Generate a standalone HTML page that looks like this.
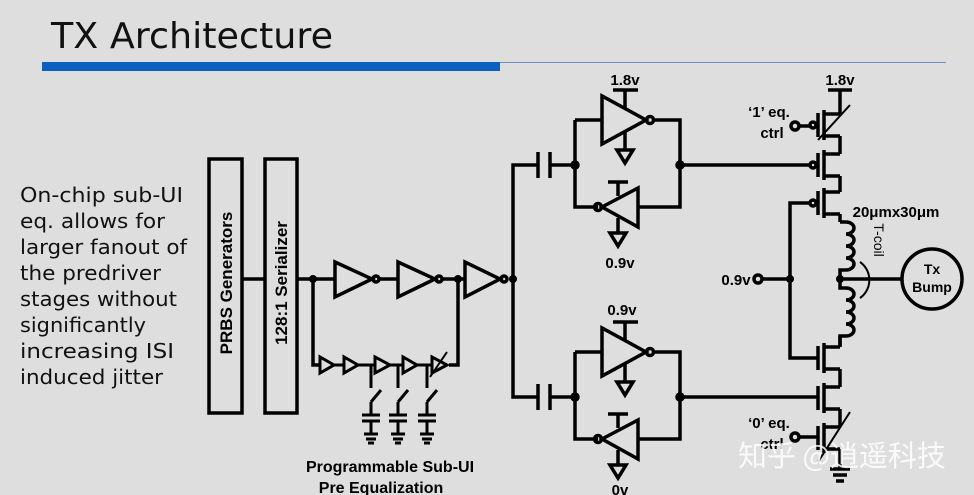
<!DOCTYPE html>
<html><head><meta charset="utf-8"><style>
html,body{margin:0;padding:0;background:#dedede;}
svg{display:block;}
</style></head><body>
<svg width="974" height="495" viewBox="0 0 974 495" xmlns="http://www.w3.org/2000/svg">
<rect width="974" height="495" fill="#dedede"/>
<text x="51" y="48" font-family="DejaVu Sans, sans-serif" font-size="36" fill="#111" textLength="282" lengthAdjust="spacingAndGlyphs">TX Architecture</text>
<rect x="42" y="62" width="458" height="9" fill="#0a5fbf"/>
<line x1="500" y1="62.5" x2="946" y2="62.5" stroke="#6d8fc8" stroke-width="1"/>
<g font-family="DejaVu Sans, sans-serif" font-size="20" fill="#111">
<text x="20" y="202" textLength="163" lengthAdjust="spacingAndGlyphs">On-chip sub-UI</text>
<text x="20" y="228" textLength="145" lengthAdjust="spacingAndGlyphs">eq. allows for</text>
<text x="20" y="254" textLength="167" lengthAdjust="spacingAndGlyphs">larger fanout of</text>
<text x="20" y="280" textLength="141" lengthAdjust="spacingAndGlyphs">the predriver</text>
<text x="20" y="306" textLength="157" lengthAdjust="spacingAndGlyphs">stages without</text>
<text x="20" y="332" textLength="126" lengthAdjust="spacingAndGlyphs">significantly</text>
<text x="20" y="358" textLength="154" lengthAdjust="spacingAndGlyphs">increasing ISI</text>
<text x="20" y="384" textLength="143" lengthAdjust="spacingAndGlyphs">induced jitter</text>
</g>
<g font-family="Liberation Sans, sans-serif" font-weight="bold" font-size="17" fill="#000" text-anchor="middle">
<text transform="translate(232,283) rotate(-90)">PRBS Generators</text>
<text transform="translate(287,283) rotate(-90)">128:1 Serializer</text>
</g>
<g stroke="#000" stroke-width="3.5" fill="none" stroke-linejoin="miter">
<rect x="209" y="159" width="33" height="254"/>
<rect x="265" y="159" width="32" height="254"/>
<line x1="242" y1="279" x2="265" y2="279"/>
<line x1="297" y1="279" x2="335" y2="279"/>
<polygon points="335,262 335,297 372,279"/>
<circle cx="376" cy="279" r="3"/>
<line x1="379" y1="279" x2="398" y2="279"/>
<polygon points="398,262 398,297 435,279"/>
<circle cx="439" cy="279" r="3"/>
<line x1="442" y1="279" x2="465" y2="279"/>
<polygon points="465,262 465,297 500,279"/>
<circle cx="504" cy="279" r="3"/>
<polyline points="313,279 313,365 320,365"/>
<polyline points="458,279 458,365 449,365"/>
<g stroke-width="3">
<polygon points="320,357 320,373 334,365"/><line x1="334" y1="365" x2="344" y2="365"/>
<polygon points="344,357 344,373 358,365"/><line x1="358" y1="365" x2="375" y2="365"/>
<polygon points="375,357 375,373 390,365"/><line x1="390" y1="365" x2="403" y2="365"/>
<polygon points="403,357 403,373 417,365"/><line x1="417" y1="365" x2="432" y2="365"/>
<polygon points="432,357 432,373 447,365"/>
<line x1="430" y1="377" x2="447" y2="352" stroke-width="2"/>
<polyline points="371,365 371,388"/><line x1="371" y1="402" x2="381" y2="390"/><line x1="371" y1="402" x2="371" y2="414"/>
<polyline points="398,365 398,388"/><line x1="398" y1="402" x2="408" y2="390"/><line x1="398" y1="402" x2="398" y2="414"/>
<polyline points="427,365 427,388"/><line x1="427" y1="402" x2="437" y2="390"/><line x1="427" y1="402" x2="427" y2="414"/>
<line x1="362" y1="415" x2="380" y2="415"/><line x1="362" y1="421" x2="380" y2="421"/><line x1="371" y1="421" x2="371" y2="433"/>
<line x1="389" y1="415" x2="407" y2="415"/><line x1="389" y1="421" x2="407" y2="421"/><line x1="398" y1="421" x2="398" y2="433"/>
<line x1="418" y1="415" x2="436" y2="415"/><line x1="418" y1="421" x2="436" y2="421"/><line x1="427" y1="421" x2="427" y2="433"/>
<line x1="364" y1="434" x2="378" y2="434"/><line x1="366" y1="439" x2="376" y2="439"/><line x1="368" y1="443" x2="374" y2="443"/>
<line x1="391" y1="434" x2="405" y2="434"/><line x1="393" y1="439" x2="403" y2="439"/><line x1="395" y1="443" x2="401" y2="443"/>
<line x1="420" y1="434" x2="434" y2="434"/><line x1="422" y1="439" x2="432" y2="439"/><line x1="424" y1="443" x2="430" y2="443"/>
</g>
<polyline points="538,165 513,165 513,397 538,397"/>
<line x1="538" y1="152" x2="538" y2="178"/><line x1="550" y1="152" x2="550" y2="178"/>
<line x1="538" y1="384" x2="538" y2="410"/><line x1="550" y1="384" x2="550" y2="410"/>
<line x1="550" y1="165" x2="575" y2="165"/>
<line x1="550" y1="397" x2="575" y2="397"/>
</g>
<g fill="#000">
<circle cx="313" cy="279" r="4"/><circle cx="458" cy="279" r="4"/><circle cx="513" cy="279" r="4"/>
</g>
<g id="latch" stroke="#000" stroke-width="3.5" fill="none">
<polyline points="575,120 575,207 598,207"/>
<polyline points="575,120 602,120"/>
<polyline points="653,120 680,120 680,207 638,207"/>
<polygon points="602,96 602,144 646,120"/>
<circle cx="650" cy="120" r="3.5"/>
<line x1="625" y1="90" x2="625" y2="108"/>
<line x1="613" y1="90" x2="638" y2="90"/>
<line x1="625" y1="132" x2="625" y2="150"/>
<polygon points="617,150 633,150 625,163"/>
<polygon points="638,188 638,227 602,207"/>
<circle cx="598" cy="207" r="3.5"/>
<line x1="618" y1="182" x2="618" y2="196"/>
<line x1="608" y1="182" x2="628" y2="182"/>
<line x1="618" y1="218" x2="618" y2="233"/>
<polygon points="610,233 626,233 618,246"/>
<line x1="680" y1="165" x2="812" y2="165"/>
<circle cx="575" cy="165" r="3" fill="#000"/><circle cx="680" cy="165" r="3" fill="#000"/>
</g>
<use href="#latch" transform="translate(0,232)"/>
<g font-family="Liberation Sans, sans-serif" font-weight="bold" font-size="15" fill="#000" text-anchor="middle">
<text x="625" y="85">1.8v</text>
<text x="620" y="268">0.9v</text>
<text x="622" y="315">0.9v</text>
<text x="620" y="495">0v</text>
<text x="840" y="85">1.8v</text>
<text x="769" y="117">‘1’ eq.</text>
<text x="772" y="138">ctrl</text>
<text x="769" y="428">‘0’ eq.</text>
<text x="772" y="449">ctrl</text>
<text x="736" y="285">0.9v</text>
<text x="896" y="217">20μmx30μm</text>
<text x="932" y="274" font-size="14">Tx</text>
<text x="932" y="292" font-size="14">Bump</text>
<text transform="translate(874,240) rotate(90)" font-size="14" font-weight="normal">T-coil</text>
<text x="390" y="472" font-size="16">Programmable Sub-UI</text>
<text x="381" y="493" font-size="16">Pre Equalization</text>
</g>
<g stroke="#000" stroke-width="3.5" fill="none">
<line x1="828" y1="90" x2="852" y2="90"/>
<line x1="840" y1="90" x2="840" y2="112"/>
<g id="pm">
<line x1="818" y1="113" x2="818" y2="137"/>
<line x1="824" y1="110" x2="824" y2="140"/>
<polyline points="824,114 840,114"/>
<polyline points="824,136 840,136"/>
<circle cx="813" cy="125" r="3"/>
</g>
<use href="#pm" transform="translate(0,40)"/>
<use href="#pm" transform="translate(0,78)"/>
<line x1="840" y1="112" x2="840" y2="114"/>
<line x1="840" y1="136" x2="840" y2="154"/>
<line x1="840" y1="176" x2="840" y2="192"/>
<line x1="840" y1="214" x2="840" y2="222"/>
<line x1="818" y1="140" x2="850" y2="105" stroke-width="2"/>
<line x1="800" y1="126" x2="810" y2="126"/>
<circle cx="795" cy="126" r="4"/>
<polyline points="810,203 790,203 790,358 818,358"/>
<path d="M840,222 h6 a8,6 0 0 1 0,12 a8,6 0 0 1 0,12 a8,6 0 0 1 0,12 a8,6 0 0 1 0,12 h-6 v18 h6 a8,6 0 0 1 0,12 a8,6 0 0 1 0,12 a8,6 0 0 1 0,12 a8,6 0 0 1 0,12 h-6 v10"/>
<line x1="840" y1="279" x2="902" y2="279"/>
<circle cx="932" cy="279" r="30"/>
<path d="M860,262 a22,22 0 0 1 0,36" stroke-width="2"/>
<line x1="762" y1="279" x2="790" y2="279"/>
<circle cx="758" cy="279" r="4"/>
<g id="nm">
<line x1="818" y1="346" x2="818" y2="370"/>
<line x1="824" y1="343" x2="824" y2="373"/>
<polyline points="824,347 840,347"/>
<polyline points="824,369 840,369"/>
</g>
<use href="#nm" transform="translate(0,40)"/>
<use href="#nm" transform="translate(0,80)"/>
<line x1="840" y1="336" x2="840" y2="347"/>
<line x1="840" y1="369" x2="840" y2="387"/>
<line x1="840" y1="409" x2="840" y2="427"/>
<line x1="840" y1="449" x2="840" y2="468"/>
<line x1="812" y1="397" x2="818" y2="397"/>
<line x1="800" y1="437" x2="818" y2="437"/>
<circle cx="795" cy="437" r="4"/>
<line x1="818" y1="462" x2="850" y2="412" stroke-width="2"/>
<line x1="830" y1="469" x2="850" y2="469"/><line x1="833" y1="475" x2="847" y2="475"/><line x1="836" y1="481" x2="844" y2="481"/>
</g>
<g fill="#000"><circle cx="790" cy="279" r="4"/><circle cx="840" cy="279" r="4"/></g>
<text x="738" y="466" font-family="Noto Sans CJK SC, sans-serif" font-size="29" fill="#ffffff" fill-opacity="0.85">知乎 @逍遥科技</text>
</svg>
</body></html>
